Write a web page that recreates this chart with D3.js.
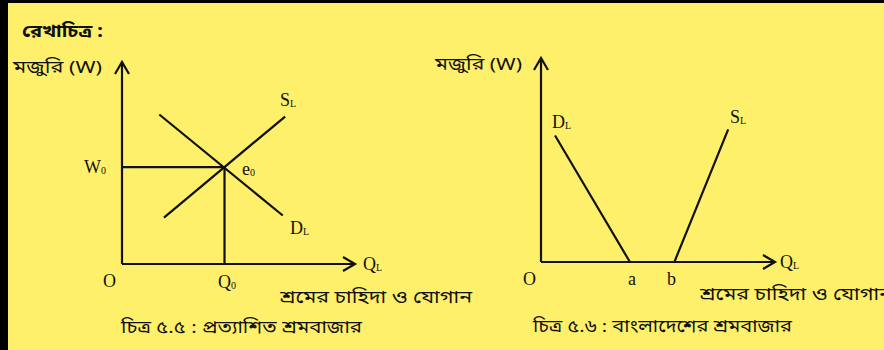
<!DOCTYPE html>
<html>
<head>
<meta charset="utf-8">
<script src="https://cdn.jsdelivr.net/npm/d3@7"></script>
<style>
  body { margin: 0; background: #000; }
  svg { display: block; }
  .bn { font-family: "Noto Sans Bengali", "Noto Serif Bengali", "Lohit Bengali", "Noto Sans", sans-serif; fill: #111; }
  .lat { font-family: "Liberation Serif", "DejaVu Serif", serif; fill: #111; }
</style>
</head>
<body>
<script>
// ---- data (axis units 0..100 in each diagram) ----
const leftSupply = [[18, 23], [70, 73]];
const leftDemand = [[16, 74], [69, 24]];
const leftEq = { q: 44, w: 48 };

const rightDemand = [[6, 62], [38, 0]];
const rightSupply = [[57, 0], [80, 65]];

const captions = ["চিত্র ৫.৫ : প্রত্যাশিত শ্রমবাজার", "চিত্র ৫.৬ : বাংলাদেশের শ্রমবাজার"];
const yTitle = "মজুরি (W)";
const xTitle = "শ্রমের চাহিদা ও যোগান";
const heading = "রেখাচিত্র :";

const W = 884, H = 350;

const svg = d3.select("body").append("svg")
    .attr("width", W)
    .attr("height", H);

svg.append("rect").attr("x", 8).attr("y", 3).attr("width", W - 8).attr("height", H - 3).attr("fill", "#fff06b");

const line = d3.line();

// bengali text squeezed to the width seen in the picture
function bn(g, px, py, txt, len, size, weight) {
    return g.append("text").attr("class", "bn").attr("x", px).attr("y", py)
        .attr("font-size", size || 17)
        .attr("font-weight", weight || "normal")
        .attr("textLength", len).attr("lengthAdjust", "spacingAndGlyphs")
        .text(txt);
}

function label(g, px, py, main, subTxt) {
    const t = g.append("text").attr("class", "lat").attr("x", px).attr("y", py)
        .attr("font-size", 18);
    t.append("tspan").text(main);
    if (subTxt) t.append("tspan").attr("font-size", 10).attr("dy", 1).text(subTxt);
    return t;
}

function axes(g, x, y) {
    const x0 = x(0), y0 = y(0);
    g.append("line").attr("x1", x0).attr("y1", y0).attr("x2", x0).attr("y2", y(100))
        .attr("stroke", "#111").attr("stroke-width", 2.2);
    g.append("path").attr("d", line([[x0 - 7, y(100) + 12], [x0, y(100)], [x0 + 7, y(100) + 12]]))
        .attr("fill", "none").attr("stroke", "#111").attr("stroke-width", 2.2);
    g.append("line").attr("x1", x0).attr("y1", y0).attr("x2", x(100)).attr("y2", y0)
        .attr("stroke", "#111").attr("stroke-width", 2.2);
    g.append("path").attr("d", line([[x(100) - 12, y0 - 7], [x(100), y0], [x(100) - 12, y0 + 7]]))
        .attr("fill", "none").attr("stroke", "#111").attr("stroke-width", 2.2);
}

bn(svg, 22, 37, heading, 81, 18, "bold");

// ---- left diagram ----
const xL = d3.scaleLinear().domain([0, 100]).range([122, 355]);
const yL = d3.scaleLinear().domain([0, 100]).range([264, 62]);
const gL = svg.append("g");
axes(gL, xL, yL);

gL.append("path").attr("d", line([[xL(0), yL(leftEq.w)], [xL(leftEq.q), yL(leftEq.w)], [xL(leftEq.q), yL(0)]]))
    .attr("fill", "none").attr("stroke", "#111").attr("stroke-width", 2.2);
[leftSupply, leftDemand].forEach(s => {
    gL.append("path").attr("d", line(s.map(d => [xL(d[0]), yL(d[1])])))
        .attr("fill", "none").attr("stroke", "#111").attr("stroke-width", 2.2);
});

bn(gL, 13, 73, yTitle, 89);
label(gL, 84, 173, "W", "0");
label(gL, 242, 175, "e", "0");
label(gL, 280, 106, "S", "L");
label(gL, 290, 234, "D", "L");
label(gL, 103, 287, "O");
label(gL, 218, 288, "Q", "0");
label(gL, 363, 270, "Q", "L");
bn(gL, 280, 303, xTitle, 192);
bn(gL, 121, 333, captions[0], 241);

// ---- right diagram ----
const xR = d3.scaleLinear().domain([0, 100]).range([541, 775]);
const yR = d3.scaleLinear().domain([0, 100]).range([262, 58]);
const gR = svg.append("g");
axes(gR, xR, yR);
[rightDemand, rightSupply].forEach(s => {
    gR.append("path").attr("d", line(s.map(d => [xR(d[0]), yR(d[1])])))
        .attr("fill", "none").attr("stroke", "#111").attr("stroke-width", 2.2);
});

bn(gR, 435, 70, yTitle, 87);
label(gR, 552, 128, "D", "L");
label(gR, 730, 123, "S", "L");
label(gR, 523, 285, "O");
label(gR, 628, 285, "a");
label(gR, 667, 285, "b");
label(gR, 780, 268, "Q", "L");
bn(gR, 700, 300, xTitle, 192);
bn(gR, 533, 332, captions[1], 259);
</script>
</body>
</html>
